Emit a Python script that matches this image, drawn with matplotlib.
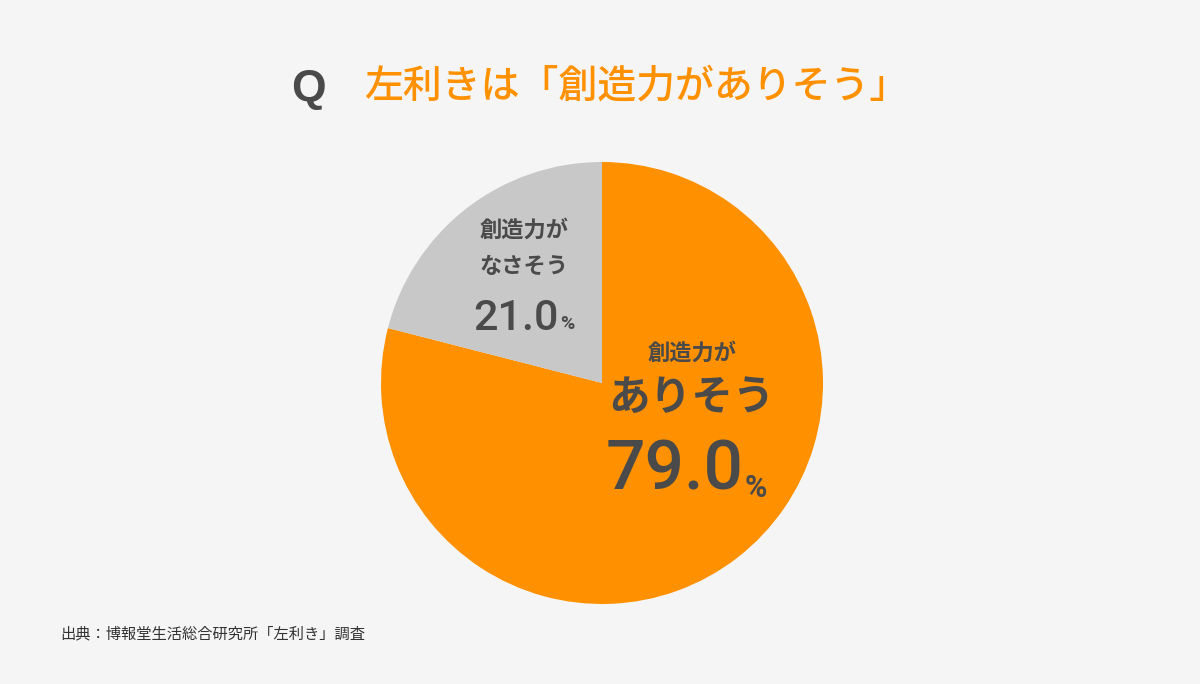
import matplotlib.pyplot as plt

plt.rcParams['font.family'] = 'Noto Sans CJK JP'

labels = ['創造力がありそう', '創造力がなさそう']
values = [79.0, 21.0]
colors = ['#ff9100', '#c8c8c8']

W, H = 1200, 684


def px(x, y):
    return x / W, 1 - y / H


def main():
    fig = plt.figure(figsize=(12, 6.84), dpi=100)
    fig.patch.set_facecolor('#f5f5f5')

    cx, cy, r = 602, 383, 221
    ax = fig.add_axes([(cx - r) / W, 1 - (cy + r) / H, 2 * r / W, 2 * r / H])
    ax.pie(values, colors=colors, startangle=90, counterclock=False,
           wedgeprops={'linewidth': 0})
    ax.set_xlim(-1, 1)
    ax.set_ylim(-1, 1)
    ax.set_aspect('equal')
    ax.axis('off')

    dark = '#4a4a4a'
    fig.text(*px(308, 90), 'Q', fontsize=32, fontweight='bold', color=dark,
             ha='center', va='center', family='Liberation Sans')
    fig.text(*px(364, 86), '左利きは「創造力がありそう」', fontsize=28,
             fontweight='medium', color='#ff9100', ha='left', va='center')

    # large slice
    fig.text(*px(692, 353), '創造力が', fontsize=16, fontweight='bold',
             color=dark, ha='center', va='center')
    fig.text(*px(692, 398), 'ありそう', fontsize=30, fontweight='bold',
             color=dark, ha='center', va='center')
    fig.text(*px(744, 470), '%.1f' % values[0], fontsize=50, color=dark,
             ha='right', va='center', family='Roboto', fontweight='medium')
    fig.text(*px(745, 488), '%', fontsize=22, color=dark, fontweight='bold',
             ha='left', va='center', family='Roboto')

    # small slice
    fig.text(*px(524, 230), '創造力が', fontsize=16, fontweight='bold',
             color=dark, ha='center', va='center')
    fig.text(*px(524, 266), 'なさそう', fontsize=16, fontweight='bold',
             color=dark, ha='center', va='center')
    fig.text(*px(559, 318), '%.1f' % values[1], fontsize=31, color=dark,
             ha='right', va='center', family='Roboto', fontweight='medium')
    fig.text(*px(560, 324), '%', fontsize=14, color=dark, fontweight='bold',
             ha='left', va='center', family='Roboto')

    fig.text(*px(60, 634), '出典：博報堂生活総合研究所「左利き」調査', fontsize=11,
             color='#333333', ha='left', va='center')

    fig.savefig('out.png', facecolor=fig.get_facecolor())


if __name__ == '__main__':
    main()
